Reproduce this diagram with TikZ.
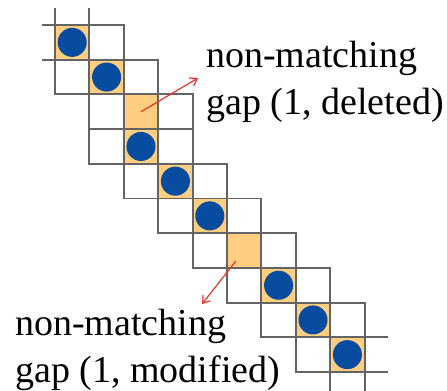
\documentclass[tikz,border=0pt]{standalone}
\usepackage{fontspec}
\setmainfont{Liberation Serif}
\newfontfamily\notefont{Liberation Serif}
\usetikzlibrary{arrows.meta}
\definecolor{gapfill}{RGB}{255,206,128}
\definecolor{dotblue}{RGB}{8,76,160}
\definecolor{gridgray}{RGB}{100,100,100}
\definecolor{arrowred}{RGB}{232,52,44}

\begin{document}
\begin{tikzpicture}[x=0.75pt,y=-0.75pt,
	cell/.style={rectangle,draw=gridgray,line width=1.4pt,minimum width=25.8pt,minimum height=26pt,inner sep=0pt,outer sep=0pt},
	dot/.style={circle,fill=dotblue,minimum size=21.8pt,inner sep=0pt},
	gridline/.style={draw=gridgray,line width=1.4pt},
	gaparrow/.style={draw=arrowred,line width=0.9pt,-{Straight Barb[length=5pt,width=7pt]}},
	note/.style={align=left,inner sep=0pt,font=\notefont\fontsize{28.5pt}{35pt}\selectfont}]
	\useasboundingbox (0,0) rectangle (447,390);
	% white cells beside the path
	\foreach \c/\r in {1/0,0/1,2/1,1/2,3/2,1/3,3/3,2/4,4/4,3/5,5/5,4/6,6/6,5/7,7/7,6/8,8/8,7/9}
		\node[cell] (w-\c-\r) at ({72.2+34.4*\c},{42.35+34.7*\r}) {};
	% matched cells and gaps
	\foreach \c/\r/\n in {0/0/m1,1/1/m2,2/2/g1,2/3/m3,3/4/m4,4/5/m5,5/6/g2,6/7/m6,7/8/m7,8/9/m8}
		\node[cell,fill=gapfill] (\n) at ({72.2+34.4*\c},{42.35+34.7*\r}) {};
	\foreach \n in {m1,m2,m3,m4,m5,m6,m7,m8}
		\node[dot] (d\n) at (\n) {};
	% open ends of the grid
	\draw[gridline] (m1.north west) -- ++(-13,0);
	\draw[gridline] (m1.south west) -- ++(-13,0);
	\draw[gridline] (m1.north west) -- ++(0,-17);
	\draw[gridline] (m1.north east) -- ++(0,-17);
	\draw[gridline] (m8.north east) -- ++(23,0);
	\draw[gridline] (m8.south east) -- ++(23,0);
	\draw[gridline] (m8.south west) -- ++(0,25);
	\draw[gridline] (m8.south east) -- ++(0,25);
	% labels
	\node[note,anchor=west] (lbl1) at (206,82) {non-matching\\gap (1, deleted)};
	\node[note,anchor=west] (lbl2) at (15,350) {non-matching\\gap (1, modified)};
	\coordinate (t1) at (198,78);
	\coordinate (t2) at (202,304);
	\draw[gaparrow] (g1.center) -- (t1);
	\draw[gaparrow,shorten <=10pt] (g2.center) -- (t2);
\end{tikzpicture}
\end{document}
